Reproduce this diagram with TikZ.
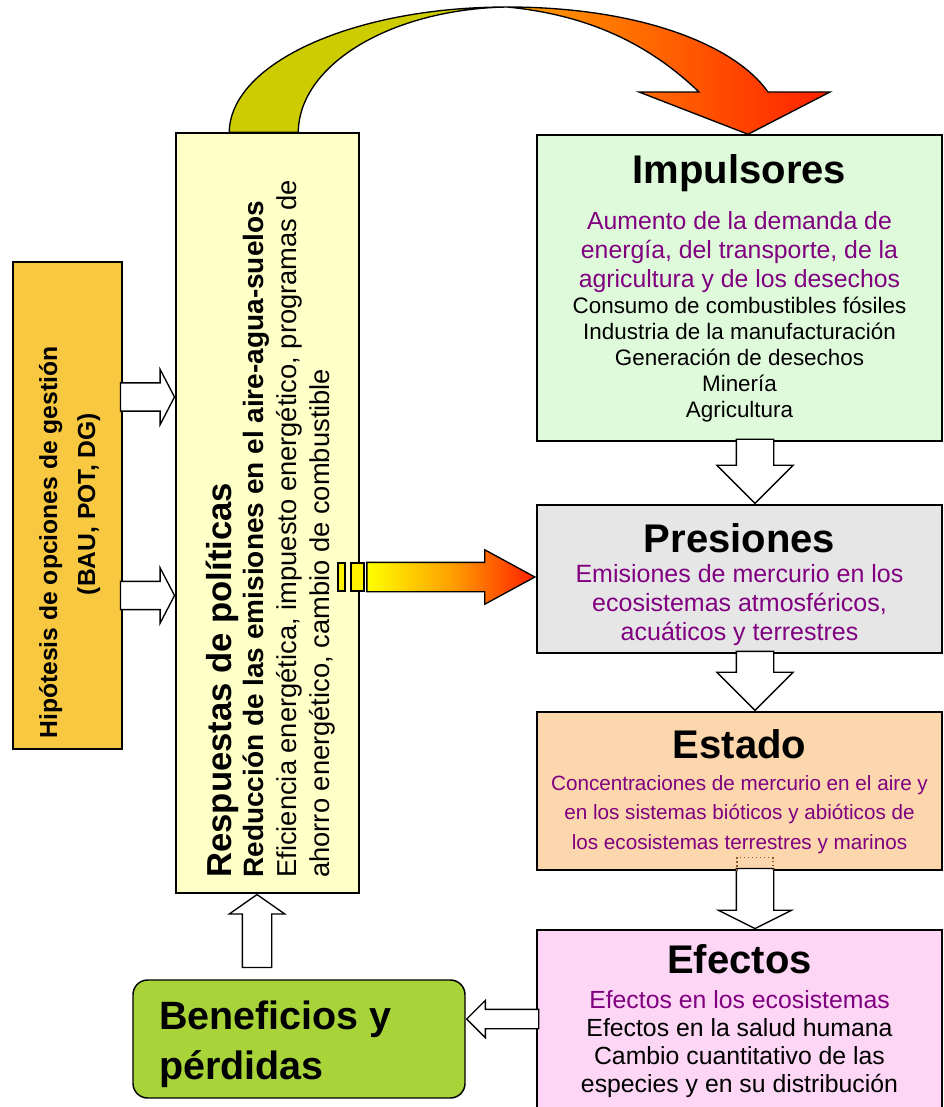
\documentclass[tikz,border=0pt]{standalone}
\usepackage{fontspec}
\setmainfont{Liberation Sans}
\usetikzlibrary{positioning,calc,shapes.arrows}

\definecolor{hipfill}{RGB}{248,200,64}
\definecolor{resfill}{RGB}{255,255,200}
\definecolor{impfill}{RGB}{222,250,218}
\definecolor{prefill}{RGB}{230,230,230}
\definecolor{estfill}{RGB}{252,214,172}
\definecolor{efefill}{RGB}{252,214,244}
\definecolor{benfill}{RGB}{168,212,58}
\definecolor{txtpurple}{RGB}{128,0,128}
\definecolor{olivearc}{RGB}{204,204,0}
\definecolor{arrorange}{RGB}{255,160,0}
\definecolor{arrred}{RGB}{255,32,0}

\begin{document}
\begin{tikzpicture}[
    x=0.75pt, y=-0.75pt,
    every node/.style={inner sep=0pt},
    box/.style={draw, line width=1.1pt},
    ttl/.style={anchor=base, font=\fontsize{30}{36}\selectfont\bfseries},
    hollow/.style={single arrow, draw, fill=white, line width=1pt, inner xsep=0pt, minimum width=0pt, anchor=tip},
    vtxt/.style={rotate=90, anchor=base west}
]
\useasboundingbox (0,0) rectangle (943,1107);
\clip (0,0) rectangle (943,1107);

% boxes
\node[box, fill=hipfill, minimum width=81.75pt, minimum height=365.25pt] (hip) at (67.5,505.5) {};
\node[box, fill=resfill, minimum width=137.25pt, minimum height=570pt] (resp) at (267.5,513) {};
\node[box, fill=impfill, minimum width=303.75pt, minimum height=229.5pt] (imp) at (739.5,288) {};
\node[box, fill=prefill, minimum width=303.75pt, minimum height=111pt] (pres) at (739.5,579) {};
\node[box, fill=estfill, minimum width=303.75pt, minimum height=118.5pt] (est) at (739.5,791) {};
\node[box, fill=efefill, minimum width=303.75pt, minimum height=138.75pt] (efe) at (739.5,1022.5) {};
\node[box, fill=benfill, rounded corners=11pt, minimum width=249pt, minimum height=88.5pt] (ben) at (299,1039) {};

% texts (base = last line)
\node[rotate=90, anchor=base, font=\fontsize{18.5}{22}\selectfont\bfseries] (hipa) at (57,542.5) {Hipótesis de opciones de gestión};
\node[rotate=90, anchor=base, font=\fontsize{18.5}{22}\selectfont\bfseries] (hipb) at (95,504) {(BAU, POT, DG)};

\node[vtxt, font=\fontsize{26}{30}\selectfont\bfseries] (resa) at (231,878) {Respuestas de políticas};
\node[vtxt, font=\fontsize{21}{25}\selectfont\bfseries] (resb) at (263,878) {Reducción de las emisiones en el aire-agua-suelos};
\node[vtxt, font=\fontsize{20.5}{25}\selectfont] (resc) at (296,878) {Eficiencia energética, impuesto energético, programas de};
\node[vtxt, font=\fontsize{20.5}{25}\selectfont] (resd) at (329,878) {ahorro energético, cambio de combustible};

\node[ttl] (impt) at (739.5,183) {Impulsores};
\node[anchor=base, align=center, text=txtpurple, font=\fontsize{18.6}{21.75}\selectfont] (impa) at (739.5,287) {Aumento de la demanda de\\energía, del transporte, de la\\agricultura y de los desechos};
\node[anchor=base, align=center, font=\fontsize{16.8}{19.5}\selectfont] (impb) at (739.5,417) {Consumo de combustibles fósiles\\Industria de la manufacturación\\Generación de desechos\\Minería\\Agricultura};

\node[ttl] (prest) at (739.5,552) {Presiones};
\node[anchor=base, align=center, text=txtpurple, font=\fontsize{18.75}{21.75}\selectfont] (presa) at (739.5,640) {Emisiones de mercurio en los\\ecosistemas atmosféricos,\\acuáticos y terrestres};

\node[ttl] (estt) at (739.5,758) {Estado};
\node[anchor=base, align=center, text=txtpurple, font=\fontsize{15.5}{22}\selectfont] (esta) at (739.5,849) {Concentraciones de mercurio en el aire y\\en los sistemas bióticos y abióticos de\\los ecosistemas terrestres y marinos};

\node[ttl] (efet) at (739.5,973) {Efectos};
\node[anchor=base, text=txtpurple, font=\fontsize{18.6}{21}\selectfont] (efea) at (739.5,1008) {Efectos en los ecosistemas};
\node[anchor=base, align=center, font=\fontsize{18.6}{21}\selectfont] (efeb) at (739.5,1092) {Efectos en la salud humana\\Cambio cuantitativo de las\\especies y en su distribución};

\node[anchor=base west, align=left, font=\fontsize{29.6}{37.5}\selectfont\bfseries] (bent) at (159,1079) {Beneficios y\\pérdidas};

% hollow arrows
\node[hollow, minimum height=40.5pt, inner ysep=10.1pt, single arrow head extend=10.1pt, single arrow tip angle=125] (ha) at ($(resp.west)+(0,-116)$) {};
\node[hollow, minimum height=40.5pt, inner ysep=10.1pt, single arrow head extend=10.1pt, single arrow tip angle=125] (hb) at ($(resp.west)+(0,82.5)$) {};
\node[hollow, rotate=-90, minimum height=48pt, inner ysep=13.5pt, single arrow head extend=14.6pt] (ip) at ($(pres.north)+(15.5,0)$) {};
\node[hollow, rotate=-90, minimum height=44.25pt, inner ysep=13.5pt, single arrow head extend=14.6pt] (pe) at ($(est.north)+(15.5,0)$) {};
\node[hollow, rotate=-90, minimum height=45pt, inner ysep=13.5pt, single arrow head extend=13.5pt, single arrow tip angle=127] (ee) at ($(efe.north)+(15.5,0)$) {};
\draw[dotted, line width=1pt, brown!70!black] ($(est.south)+(-2.5,0)$) -- ++(0,-13) -- ++(36,0) -- ++(0,13);
\node[hollow, rotate=180, minimum height=54pt, inner ysep=6.75pt, single arrow head extend=6.75pt] (eb) at ($(ben.east)+(0,-20)$) {};
\node[hollow, rotate=90, minimum height=54.75pt, inner ysep=10.5pt, single arrow head extend=9.75pt, single arrow tip angle=110] (br) at ($(resp.south)+(-10.5,0)$) {};

% shaded arrow to Presiones
\draw[fill=yellow, line width=1pt] (338,563) rectangle (345,591);
\draw[fill=yellow, line width=1pt] (351,563) rectangle (364,591);
\node[single arrow, draw, line width=1pt, inner xsep=0pt, inner ysep=10.5pt, minimum width=0pt, anchor=tip,
      single arrow head extend=9.4pt, single arrow tip angle=57, minimum height=126pt,
      left color=yellow, right color=arrred, middle color=arrorange] (rp) at ($(pres.west)+(0,-2)$) {};

% curved arrow to Impulsores
\coordinate (cva) at ($(resp.north west)+(54,0)$);
\coordinate (cvb) at ($(resp.north west)+(123,0)$);
\coordinate (cvt) at (507,7);
\draw[fill=olivearc, line width=1pt] (cva) .. controls (230,63) and (354,7) .. (cvt)
      .. controls (392,9) and (299,64) .. (cvb) -- cycle;
\draw[left color=arrorange, right color=arrred, line width=1pt] (cvt) .. controls (640,7) and (735,45) .. (768,92)
      -- (830,92) -- ($(imp.north)+(8.5,0)$) -- (639,92) -- (699,92)
      .. controls (650,45) and (590,15) .. (cvt) -- cycle;
\end{tikzpicture}
\end{document}
